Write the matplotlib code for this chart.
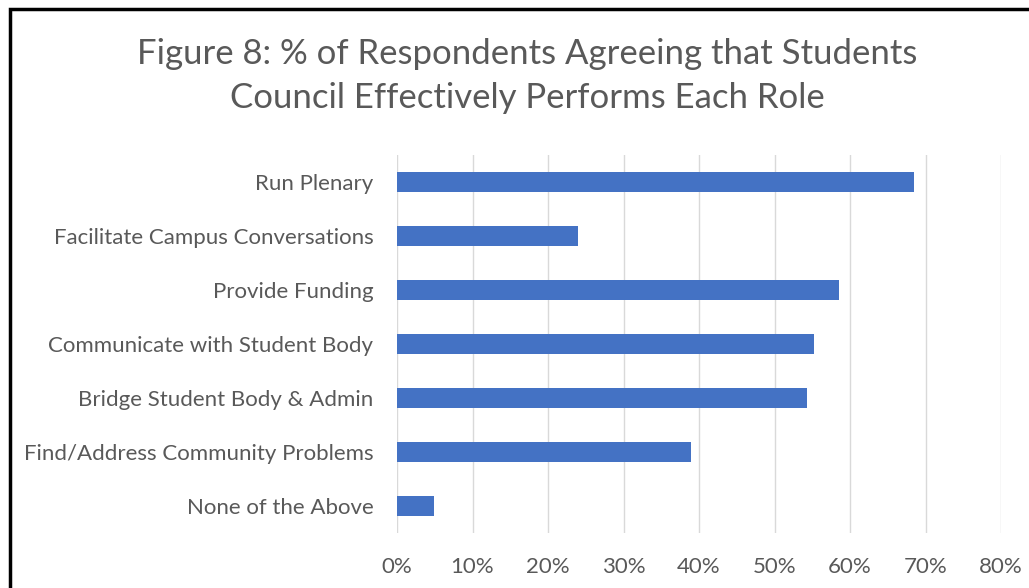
import matplotlib
matplotlib.use("Agg")
import matplotlib.pyplot as plt
from matplotlib.patches import Rectangle
from matplotlib.ticker import FuncFormatter

categories = ["Run Plenary", "Facilitate Campus Conversations", "Provide Funding",
              "Communicate with Student Body", "Bridge Student Body & Admin",
              "Find/Address Community Problems", "None of the Above"]
values = [68.5, 24.0, 58.6, 55.2, 54.3, 39.0, 4.9]
xticks = [0, 10, 20, 30, 40, 50, 60, 70, 80]
title = "Figure 8: % of Respondents Agreeing that Students\nCouncil Effectively Performs Each Role"

plt.rcParams['font.family'] = ['Lato', 'DejaVu Sans']
fig = plt.figure(figsize=(10.29, 5.88), dpi=100)
ax = fig.add_axes([397/1029, 1-533/588, (1001-397)/1029, (533-155)/588])

ypos = list(range(len(categories)))
ax.barh(ypos, values, height=0.37, color="#4472c4", zorder=3)
ax.set_ylim(len(categories)-0.5, -0.5)
ax.set_xlim(0, 80)
ax.set_xticks(xticks)
ax.xaxis.set_major_formatter(FuncFormatter(lambda v, p: f"{v:.0f}%"))
ax.set_yticks(ypos)
ax.set_yticklabels(categories)
ax.grid(axis="x", color="#d9d9d9", lw=1, zorder=0)
for s in ax.spines.values():
    s.set_visible(False)
ax.tick_params(axis="both", length=0, colors="#595959", labelsize=16)
ax.tick_params(axis="y", pad=17)
ax.tick_params(axis="x", pad=17)

fig.text(527/1029, 1-76/588, title, ha="center", va="center", fontsize=25,
         color="#595959", linespacing=1.45)

fig.patches.append(Rectangle((10/1029, -0.1), 1.2, 1-9/588+0.1, transform=fig.transFigure,
                             fill=False, edgecolor="black", lw=2.5))
fig.savefig("out.png", dpi=100)
